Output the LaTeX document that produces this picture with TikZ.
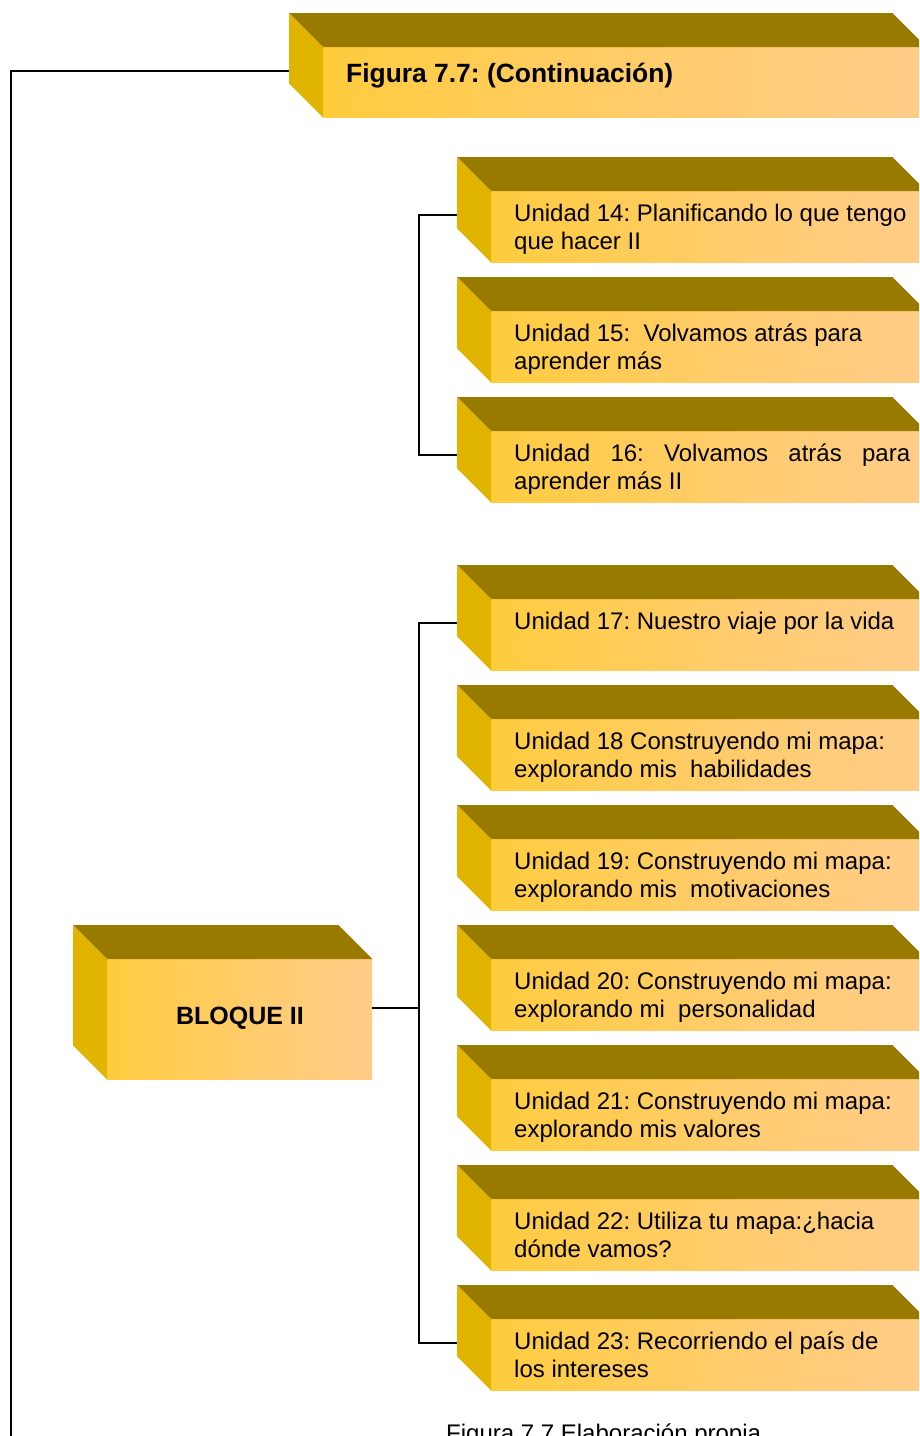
\documentclass[tikz,border=0pt]{standalone}
\usepackage{fontspec}
\setmainfont{Liberation Sans}
\frenchspacing

\definecolor{topcol}{RGB}{153,122,0}
\definecolor{leftcol}{RGB}{224,180,0}

% yellow-to-peach front face, lit from the left
\pgfdeclarehorizontalshading{frontface}{100bp}{%
  rgb(0bp)=(1,0.8,0);
  rgb(10bp)=(1,0.8,0.09);
  rgb(30bp)=(1,0.8,0.28);
  rgb(55bp)=(1,0.8,0.44);
  rgb(80bp)=(1,0.8,0.56);
  rgb(100bp)=(1,0.8,0.6)}

\tikzset{
  front/.style={rectangle, inner sep=0pt, shading=frontface, anchor=north west},
  unitfront/.style={front, minimum width=435pt, minimum height=71pt},
  unittext/.style={anchor=base west, inner sep=0pt,
    font=\fontsize{24}{27.5}\selectfont},
  link/.style={draw=black, line width=1.6pt},
}

% top and left faces of a block whose front face is node #1
\newcommand\boxsides[1]{%
  \fill[topcol] (#1.north west) -- ([shift={(-34pt,34pt)}]#1.north west)
    -- ([shift={(-34pt,34pt)}]#1.north east) -- (#1.north east) -- cycle;
  \fill[leftcol] (#1.north west) -- ([shift={(-34pt,34pt)}]#1.north west)
    -- ([shift={(-34pt,34pt)}]#1.south west) -- (#1.south west) -- cycle;}

% one unit block: name, top edge, first line, second line
\newcommand\unitblock[4]{%
  \node[unitfront] (#1) at (491,#2+34) {};
  \boxsides{#1}
  \begin{scope}
    \clip (#1.north west) rectangle (#1.south east);
    \node[unittext] (#1-text) at (514,#2+64.5) {\vtop{\hbox{#3}\hbox{#4}}};
  \end{scope}
  \coordinate (#1-in) at (457,#2+58);}

\begin{document}
\begin{tikzpicture}[x=1pt,y=-1pt]
\clip (0,0) rectangle (919,1436);
\fill[white] (0,0) rectangle (919,1436);

% title block
\node[front, minimum width=603pt, minimum height=70pt] (title) at (323,47) {};
\boxsides{title}
\node[anchor=base west, inner sep=0pt, font=\bfseries\fontsize{26.4}{30}\selectfont]
  (title-text) at (346,82) {Figura 7.7: (Continuación)};
\coordinate (title-in) at (289,71);

% block II
\node[front, minimum width=265pt, minimum height=120pt] (bloque) at (107,959) {};
\boxsides{bloque}
\node[anchor=base, inner sep=0pt, font=\bfseries\fontsize{25}{30}\selectfont]
  (bloque-text) at (240,1024) {BLOQUE II};

% units
\unitblock{u14}{157}{Unidad 14: Planificando lo que tengo}{que hacer II}
\unitblock{u15}{277}{Unidad 15:~ Volvamos atrás para}{aprender más}
\unitblock{u16}{397}{\hbox to 396pt{Unidad\hfill 16:\hfill Volvamos\hfill atrás\hfill para}}{aprender más II}
\unitblock{u17}{565}{Unidad 17: Nuestro viaje por la vida}{}
\unitblock{u18}{685}{Unidad 18 Construyendo mi mapa:}{explorando mis~ habilidades}
\unitblock{u19}{805}{Unidad 19: Construyendo mi mapa:}{explorando mis~ motivaciones}
\unitblock{u20}{925}{Unidad 20: Construyendo mi mapa:}{explorando mi~ personalidad}
\unitblock{u21}{1045}{Unidad 21: Construyendo mi mapa:}{explorando mis valores}
\unitblock{u22}{1165}{Unidad 22: Utiliza tu mapa:¿hacia}{dónde vamos?}
\unitblock{u23}{1285}{Unidad 23: Recorriendo el país de}{los intereses}

% connectors
\coordinate (left-end) at (11,1440);
\draw[link] (title-in) -| (left-end);
\draw[link] (u14-in) -- ++(-38,0) |- (u16-in);
\draw[link] (u17-in) -- ++(-38,0) |- (u23-in);
\draw[link] ([yshift=11pt]bloque.east) -- ++(47,0);

% caption
\node[anchor=base west, inner sep=0pt, font=\fontsize{24}{28}\selectfont]
  (caption) at (446,1441) {Figura 7.7 Elaboración propia};
\end{tikzpicture}
\end{document}
